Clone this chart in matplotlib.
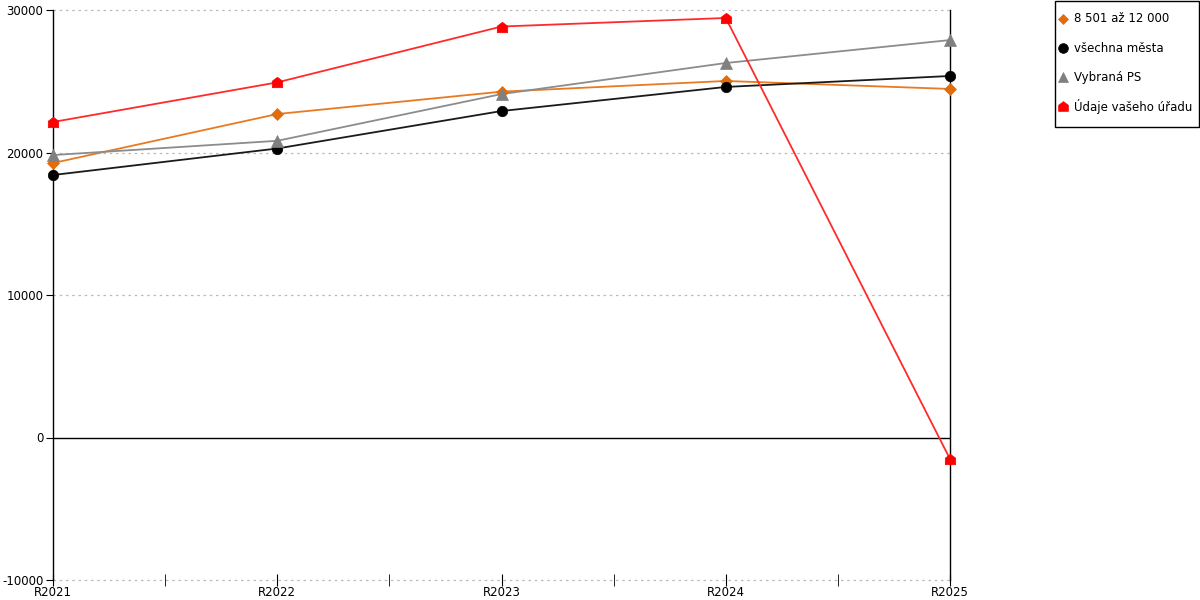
import matplotlib
matplotlib.use("Agg")
import matplotlib.pyplot as plt
from matplotlib.path import Path
from matplotlib.lines import Line2D
from matplotlib.patches import Rectangle
import numpy as np

categories = ["R2021", "R2022", "R2023", "R2024", "R2025"]
s_group = [19260, 22700, 24270, 25020, 24460]
s_all = [18420, 20280, 22910, 24600, 25370]
s_ps = [19820, 20820, 24100, 26280, 27890]
s_office = [22140, 24920, 28840, 29440, -1510]

names = ["8 501 až 12 000", "všechna města", "Vybraná PS", "Údaje vašeho úřadu"]
colors = ["#e36c0a", "#000000", "#808080", "#ff0000"]
line_colors = ["#e87a22", "#1a1a1a", "#8c8c8c", "#ff2a2a"]

house = Path([(-1, -1), (1, -1), (1, 0.25), (0, 1), (-1, 0.25), (-1, -1)],
             [Path.MOVETO, Path.LINETO, Path.LINETO, Path.LINETO, Path.LINETO, Path.CLOSEPOLY])
markers = ["D", "o", "^", house]
msizes = [6, 7.5, 8, 7.5]

W, H = 1200, 600
plt.rcParams['font.family'] = ['DejaVu Sans']
fig = plt.figure(figsize=(12, 6), dpi=100)
ax = fig.add_axes([53/W, 20/H, 897/W, 570/H])

x = np.arange(len(categories))
series = [s_group, s_all, s_ps, s_office]
for s, c, lc, m, ms in zip(series, colors, line_colors, markers, msizes):
    ax.plot(x, s, color=lc, lw=1.3, zorder=3)
    ax.plot(x, s, linestyle='none', marker=m, markersize=ms, color=c,
            markeredgecolor=c, markeredgewidth=0.5, zorder=4, clip_on=False)

ax.set_xlim(0, 4)
ax.set_ylim(-10000, 30000)
ax.set_yticks([-10000, 0, 10000, 20000, 30000])
ax.set_yticklabels(["-10000", "0", "10000", "20000", "30000"])
ax.set_xticks(x)
ax.set_xticklabels(categories)
ax.set_xticks(x[:-1] + 0.5, minor=True)

for v in [-10000, 10000, 20000, 30000]:
    ax.axhline(v, color="#bbbbbb", lw=0.9, ls=(0, (2, 3)), zorder=1, clip_on=False)
ax.axhline(0, color="black", lw=1, zorder=2)

for sp in ["top", "bottom"]:
    ax.spines[sp].set_visible(False)
for sp in ["left", "right"]:
    ax.spines[sp].set_color("black")
    ax.spines[sp].set_linewidth(1)

ax.tick_params(axis='y', direction='out', length=5, labelsize=8.5, pad=2, colors='black')
ax.tick_params(axis='x', which='both', direction='inout', length=9, labelsize=8.5, pad=0)
ax.tick_params(axis='y', which='minor', left=False)

# Legend drawn as a framed box at the top right
fig.patches.append(Rectangle((1055/W, 1 - 127/H), 144/W, 126/H, transform=fig.transFigure,
                             fill=False, edgecolor='black', lw=1))
for i, (name, m, ms, c) in enumerate(zip(names, markers, msizes, colors)):
    yy = 1 - (19 + 29 * i) / H
    fig.add_artist(Line2D([1063/W], [yy], transform=fig.transFigure, linestyle='none',
                          marker=m, markersize=ms - 0.5, color=c, markeredgewidth=0.5))
    fig.text(1074/W, yy, name, fontsize=8.5, va='center', ha='left')

fig.savefig("out.png", dpi=100)
